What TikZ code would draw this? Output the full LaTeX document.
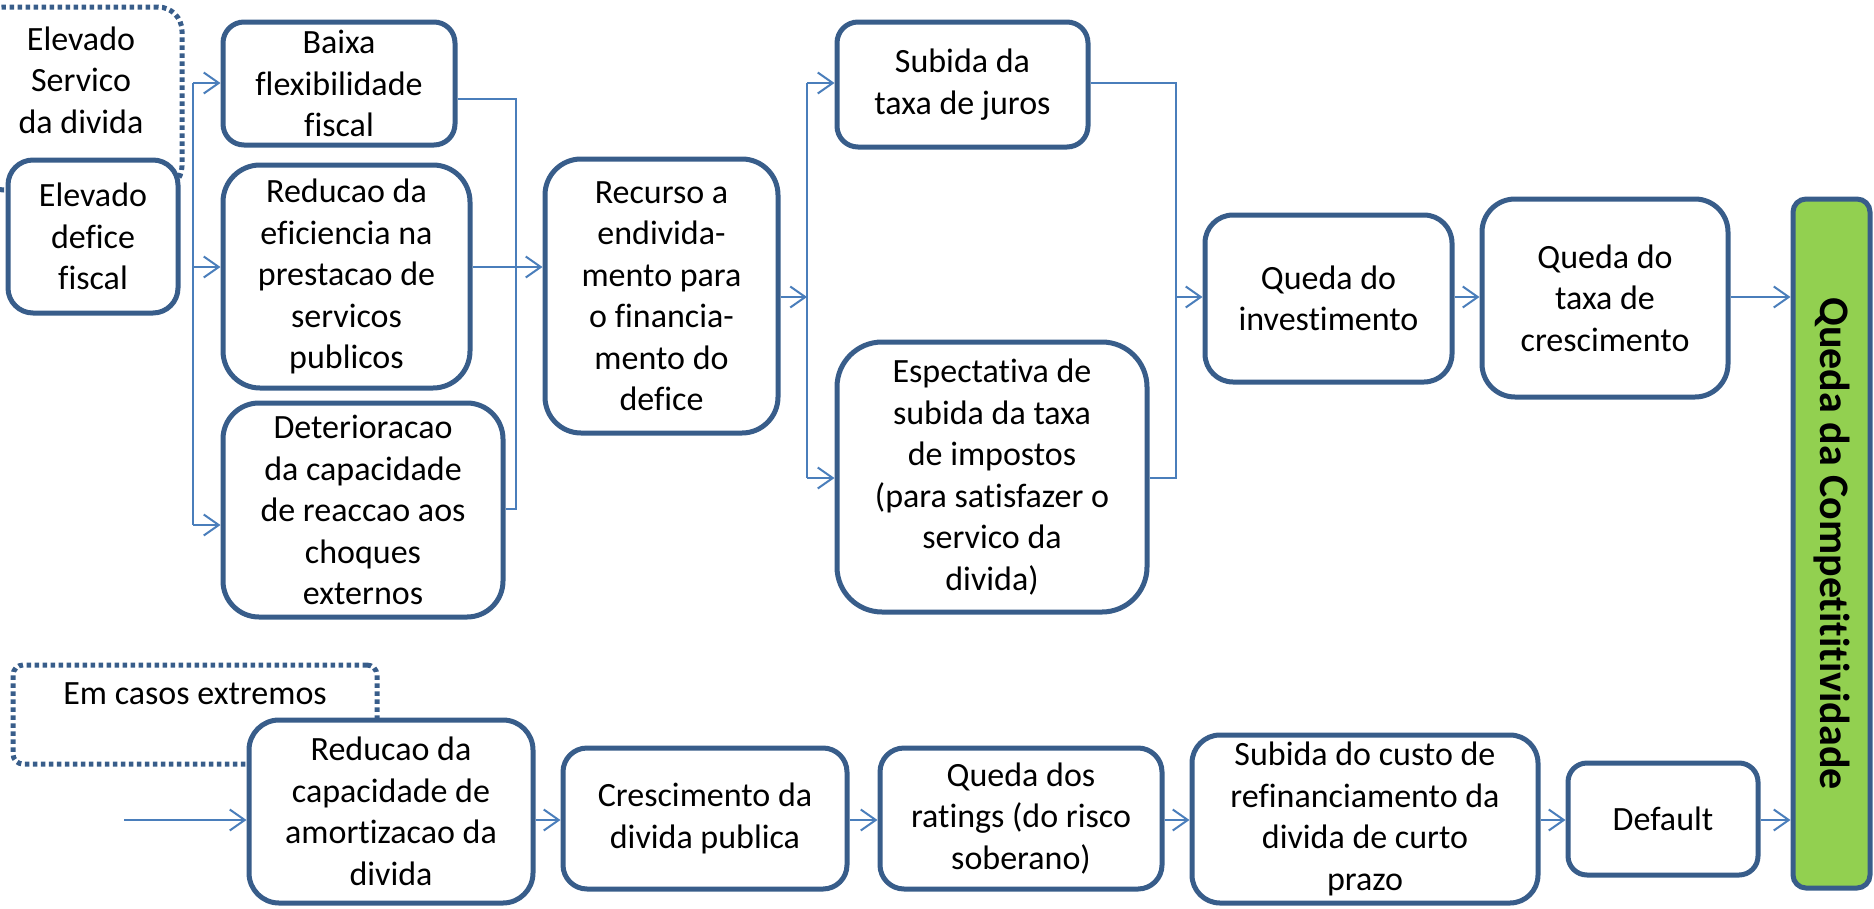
\documentclass[tikz,border=0pt]{standalone}
\usepackage{fontspec}
\setmainfont{Carlito}[Ligatures={NoCommon,NoRare,NoContextual}]
\usetikzlibrary{arrows.meta,calc}
\newcommand\nolig{\kern0pt\relax}
\definecolor{bord}{RGB}{56,93,138}
\definecolor{linkc}{RGB}{74,126,187}
\definecolor{grn}{RGB}{146,208,80}
\tikzset{
  box/.style={draw=bord, line width=5pt, fill=white, align=center, inner sep=0pt,
    font=\fontsize{34pt}{41.5pt}\selectfont},
  dotbox/.style={draw=bord, line width=5pt, dash pattern=on 4.5pt off 3.5pt, inner sep=0pt},
  txt/.style={align=center, inner sep=0pt, font=\fontsize{34pt}{41.5pt}\selectfont},
  link/.style={draw=linkc, line width=2pt},
  arr/.style={draw=linkc, line width=2pt, -{Straight Barb[length=15pt,width=21pt,line width=2pt]}},
}
\begin{document}
\begin{tikzpicture}[x=1pt,y=-1pt]
\useasboundingbox (0,0) rectangle (1874,908);

% dotted annotation boxes
\node[dotbox, rounded corners=24pt, minimum width=202pt, minimum height=183pt] (servico) at (81,98.5) {};
\node[txt] (servicotxt) at (81,80) {Elevado\\Servico\\da divida};
\node[dotbox, rounded corners=10pt, minimum width=364pt, minimum height=99pt] (emcasos) at (195,714.5) {};
\node[txt] (emcasostxt) at (195,694) {Em casos extremos};

% top part
\node[box, rounded corners=25pt, minimum width=170pt, minimum height=153pt] (defice) at (93,236.5) {Elevado\\defice\\fiscal};
\node[box, rounded corners=21pt, minimum width=232pt, minimum height=123pt] (baixa) at (339,83.5) {Baixa\\flexibilidade\\fiscal};
\node[box, rounded corners=37pt, minimum width=247pt, minimum height=223pt] (reducao) at (346.5,276.5) {Reducao da\\eficiencia na\\prestacao de\\servicos\\publicos};
\node[box, rounded corners=36pt, minimum width=280pt, minimum height=214pt] (deterior) at (363,510) {Deterioracao\\da capacidade\\de reaccao aos\\choques\\externos};
\node[box, rounded corners=36pt, minimum width=233pt, minimum height=274pt] (recurso) at (661.5,296) {Recurso a\\endivida-\\mento para\\o financia-\\mento do\\defice};
\node[box, rounded corners=21pt, minimum width=251pt, minimum height=125pt] (subida) at (962.5,84.5) {Subida da\\taxa de juros};
\node[box, rounded corners=45pt, minimum width=310pt, minimum height=270pt] (espect) at (992,477) {Espectat\nolig iva de\\subida da taxa\\de impostos\\(para satisfazer o\\servico da\\divida)};
\node[box, rounded corners=28pt, minimum width=247pt, minimum height=167pt] (qinv) at (1328.5,298.5) {Queda do\\invest\nolig imento};
\node[box, rounded corners=33pt, minimum width=246pt, minimum height=198pt] (qtaxa) at (1605,298) {Queda do\\taxa de\\crescimento};
\node[box, fill=grn, rounded corners=13pt, minimum width=77pt, minimum height=689pt] (green) at (1831.5,543.5) {};
\node[rotate=-90, inner sep=0pt, font=\fontsize{42pt}{50pt}\selectfont\bfseries] (greentxt) at (1831.5,543.5) {Queda da Competit\nolig it\nolig ividade};

% bottom row
\node[box, rounded corners=30pt, minimum width=284pt, minimum height=183pt] (ramort) at (391,811.5) {Reducao da\\capacidade de\\amortizacao da\\divida};
\node[box, rounded corners=24pt, minimum width=284pt, minimum height=141pt] (cresc) at (705,818.5) {Crescimento da\\divida publica};
\node[box, rounded corners=24pt, minimum width=282pt, minimum height=141pt] (qdos) at (1021,818.5) {Queda dos\\ratings (do risco\\soberano)};
\node[box, rounded corners=28pt, minimum width=346pt, minimum height=168pt] (scusto) at (1365,819) {Subida do custo de\\refinanciamento da\\divida de curto\\prazo};
\node[box, rounded corners=19pt, minimum width=190pt, minimum height=112pt] (default) at (1663,819) {Default};

% left fork
\coordinate (f1) at (193,83);
\coordinate (f2) at (193,267);
\coordinate (f3) at (193,525);
\draw[link] (f1) -- (f3);
\draw[arr] (f1) -- (f1 -| baixa.west);
\draw[arr] (f2) -- (f2 -| reducao.west);
\draw[arr] (f3) -- (f3 -| deterior.west);

% middle bracket
\coordinate (m1) at (516,99);
\coordinate (m2) at (516,267);
\coordinate (m3) at (516,509);
\draw[link] (m1 -| baixa.east) -- (m1) -- (m3) -- (m3 -| deterior.east);
\draw[arr] (m2 -| reducao.east) -- (m2 -| recurso.west);

% recurso fork
\coordinate (r1) at (807,297);
\coordinate (r2) at (807,83);
\coordinate (r3) at (807,478);
\draw[arr] (r1 -| recurso.east) -- (r1);
\draw[link] (r2) -- (r3);
\draw[arr] (r2) -- (r2 -| subida.west);
\draw[arr] (r3) -- (r3 -| espect.west);

% right bracket
\coordinate (s1) at (1176,83);
\coordinate (s2) at (1176,478);
\coordinate (s3) at (1176,297);
\draw[link] (s1 -| subida.east) -- (s1) -- (s2) -- (s2 -| espect.east);
\draw[arr] (s3) -- (s3 -| qinv.west);
\draw[arr] (s3 -| qinv.east) -- (s3 -| qtaxa.west);
\draw[arr] (s3 -| qtaxa.east) -- (s3 -| green.west);

% bottom row connectors
\coordinate (b0) at (124,820);
\draw[arr] (b0) -- (b0 -| ramort.west);
\draw[arr] (b0 -| ramort.east) -- (b0 -| cresc.west);
\draw[arr] (b0 -| cresc.east) -- (b0 -| qdos.west);
\draw[arr] (b0 -| qdos.east) -- (b0 -| scusto.west);
\draw[arr] (b0 -| scusto.east) -- (b0 -| default.west);
\draw[arr] (b0 -| default.east) -- (b0 -| green.west);
\end{tikzpicture}
\end{document}
